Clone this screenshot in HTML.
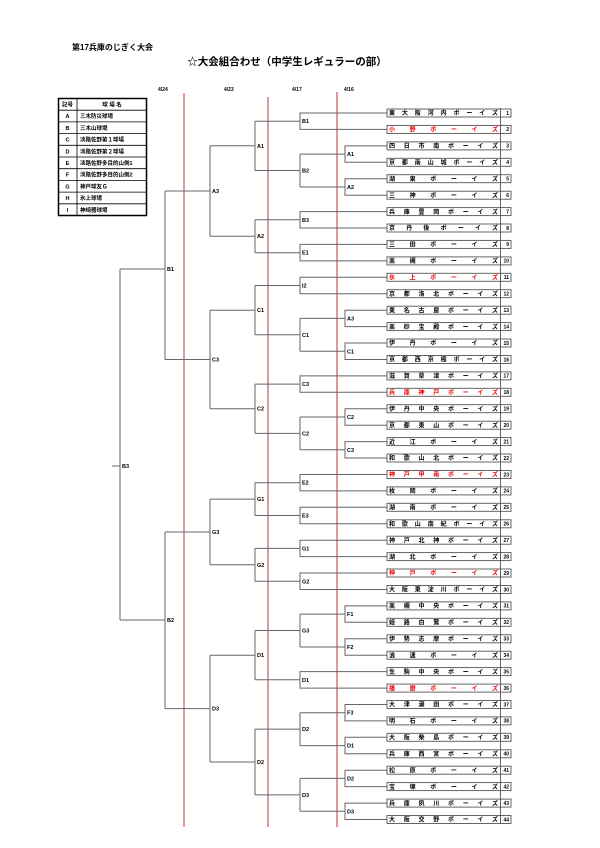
<!DOCTYPE html>
<html><head><meta charset="utf-8"><style>
html,body{margin:0;padding:0;background:#fff;}
svg{display:block;font-family:"Liberation Sans","Noto Sans CJK JP",sans-serif;font-weight:bold;}
</style></head><body>
<svg width="600" height="848" viewBox="0 0 600 848" xmlns="http://www.w3.org/2000/svg">
<text x="72" y="50" font-size="8">第17兵庫のじぎく大会</text>
<text x="287" y="65" font-size="10.5" text-anchor="middle">☆大会組合わせ（中学生レギュラーの部）</text>
<g font-size="5" fill="#000">
<text x="158" y="91">4/24</text><text x="224" y="91">4/23</text><text x="292" y="91">4/17</text><text x="344" y="91">4/16</text>
</g>
<g stroke="#b33" stroke-width="1">
<line x1="184" y1="93" x2="184" y2="827"/><line x1="268" y1="97" x2="268" y2="827"/><line x1="337" y1="92" x2="337" y2="827"/>
</g>
<!-- legend -->
<g stroke="#000" fill="none">
<rect x="58.5" y="98.5" width="88" height="117" stroke-width="1.5"/>
<line x1="77" y1="98" x2="77" y2="216" stroke-width="0.8"/>
<path stroke-width="0.8" d="M58 110.2H147M58 121.9H147M58 133.6H147M58 145.3H147M58 157H147M58 168.7H147M58 180.4H147M58 192.1H147M58 203.8H147"/>
</g>
<g font-size="5.5">
<text x="62" y="106.5">記号</text><text x="112" y="106.5" text-anchor="middle">球 場 名</text>
<text x="67.5" y="118.2" text-anchor="middle">A</text><text x="80" y="118.2">三木防災球場</text>
<text x="67.5" y="129.9" text-anchor="middle">B</text><text x="80" y="129.9">三木山球場</text>
<text x="67.5" y="141.6" text-anchor="middle">C</text><text x="80" y="141.6">淡路佐野第１球場</text>
<text x="67.5" y="153.3" text-anchor="middle">D</text><text x="80" y="153.3">淡路佐野第２球場</text>
<text x="67.5" y="165" text-anchor="middle">E</text><text x="80" y="165">淡路佐野多目的山側1</text>
<text x="67.5" y="176.7" text-anchor="middle">F</text><text x="80" y="176.7">淡路佐野多目的山側2</text>
<text x="67.5" y="188.4" text-anchor="middle">G</text><text x="80" y="188.4">神戸球友Ｇ</text>
<text x="67.5" y="200.1" text-anchor="middle">H</text><text x="80" y="200.1">氷上球場</text>
<text x="67.5" y="211.8" text-anchor="middle">I</text><text x="80" y="211.8">神崎器球場</text>
</g>
<!-- bracket lines -->
<path fill="none" stroke="#666" stroke-width="1" d="
M387 145.9H345V162.3H387M345 154.1H300
M387 178.7H345V195.2H387M345 187H300
M387 310.2H345V326.6H387M345 318.4H300
M387 343H345V359.5H387M345 351.3H300
M387 408.7H345V425.2H387M345 417H300
M387 441.6H345V458H387M345 449.8H300
M387 605.9H345V622.3H387M345 614.1H300
M387 638.8H345V655.2H387M345 647H300
M387 704.5H345V720.9H387M345 712.7H300
M387 737.3H345V753.8H387M345 745.6H300
M387 770.2H345V786.6H387M345 778.4H300
M387 803.1H345V819.5H387M345 811.3H300
M387 113H300V129.4H387M300 121.2H255
M387 211.6H300V228H387M300 219.8H255
M387 244.4H300V260.9H387M300 252.7H255
M387 277.3H300V293.7H387M300 285.5H255
M387 375.9H300V392.3H387M300 384.1H255
M387 474.5H300V490.9H387M300 482.7H255
M387 507.3H300V523.8H387M300 515.5H255
M387 540.2H300V556.6H387M300 548.4H255
M387 573H300V589.5H387M300 581.3H255
M387 671.6H300V688.1H387M300 679.8H255
M300 154.1V187M300 170.5H255
M300 318.4V351.3M300 334.8H255
M300 417V449.8M300 433.4H255
M300 614.1V647M300 630.5H255
M300 712.7V745.6M300 729.1H255
M300 778.4V811.3M300 794.9H255
M255 121.2V170.5M255 145.8H210
M255 219.8V252.7M255 236.2H210
M255 285.5V334.8M255 310.2H210
M255 384.1V433.4M255 408.7H210
M255 482.7V515.5M255 499.1H210
M255 548.4V581.3M255 564.8H210
M255 630.5V679.8M255 655.2H210
M255 729.1V794.9M255 762H210
M210 145.8V236.2M210 191H165
M210 310.2V408.7M210 359.5H165
M210 499.1V564.8M210 532H165
M210 655.2V762M210 708.6H165
M165 191V359.5M165 269H120
M165 532V708.6M165 620H120
M120 269V620M112 466H120"/>
<g font-size="5.5">
<text x="347" y="156">A1</text><text x="347" y="189">A2</text><text x="347" y="320.4">A3</text><text x="347" y="353.3">C1</text>
<text x="347" y="419">C2</text><text x="347" y="451.8">C3</text><text x="347" y="616.1">F1</text><text x="347" y="649">F2</text>
<text x="347" y="714.7">F3</text><text x="347" y="747.6">D1</text><text x="347" y="780.4">D2</text><text x="347" y="813.3">D3</text>
<text x="302" y="123.2">B1</text><text x="302" y="172.5">B2</text><text x="302" y="221.8">B3</text><text x="302" y="254.7">E1</text>
<text x="302" y="287.5">I2</text><text x="302" y="336.8">C1</text><text x="302" y="386.1">C3</text><text x="302" y="435.4">C2</text>
<text x="302" y="484.7">E2</text><text x="302" y="517.5">E3</text><text x="302" y="550.4">G1</text><text x="302" y="583.3">G2</text>
<text x="302" y="632.5">G3</text><text x="302" y="681.8">D1</text><text x="302" y="731.1">D2</text><text x="302" y="796.9">D3</text>
<text x="257" y="147.8">A1</text><text x="257" y="238.2">A2</text><text x="257" y="312.2">C1</text><text x="257" y="410.7">C2</text>
<text x="257" y="501.1">G1</text><text x="257" y="566.8">G2</text><text x="257" y="657.2">D1</text><text x="257" y="764">D2</text>
<text x="212" y="193">A3</text><text x="212" y="361.5">C3</text><text x="212" y="534">G3</text><text x="212" y="710.6">D3</text>
<text x="167" y="271">B1</text><text x="167" y="622">B2</text><text x="122" y="468">B3</text>
</g>
<!-- team boxes -->
<g fill="none" stroke="#555" stroke-width="0.9">
<rect x="387" y="109" width="124" height="8"/><rect x="387" y="125.4" width="124" height="8"/><rect x="387" y="141.9" width="124" height="8"/><rect x="387" y="158.3" width="124" height="8"/>
<rect x="387" y="174.7" width="124" height="8"/><rect x="387" y="191.2" width="124" height="8"/><rect x="387" y="207.6" width="124" height="8"/><rect x="387" y="224" width="124" height="8"/>
<rect x="387" y="240.4" width="124" height="8"/><rect x="387" y="256.9" width="124" height="8"/><rect x="387" y="273.3" width="124" height="8"/><rect x="387" y="289.7" width="124" height="8"/>
<rect x="387" y="306.2" width="124" height="8"/><rect x="387" y="322.6" width="124" height="8"/><rect x="387" y="339" width="124" height="8"/><rect x="387" y="355.5" width="124" height="8"/>
<rect x="387" y="371.9" width="124" height="8"/><rect x="387" y="388.3" width="124" height="8"/><rect x="387" y="404.7" width="124" height="8"/><rect x="387" y="421.2" width="124" height="8"/>
<rect x="387" y="437.6" width="124" height="8"/><rect x="387" y="454" width="124" height="8"/><rect x="387" y="470.5" width="124" height="8"/><rect x="387" y="486.9" width="124" height="8"/>
<rect x="387" y="503.3" width="124" height="8"/><rect x="387" y="519.8" width="124" height="8"/><rect x="387" y="536.2" width="124" height="8"/><rect x="387" y="552.6" width="124" height="8"/>
<rect x="387" y="569" width="124" height="8"/><rect x="387" y="585.5" width="124" height="8"/><rect x="387" y="601.9" width="124" height="8"/><rect x="387" y="618.3" width="124" height="8"/>
<rect x="387" y="634.8" width="124" height="8"/><rect x="387" y="651.2" width="124" height="8"/><rect x="387" y="667.6" width="124" height="8"/><rect x="387" y="684.1" width="124" height="8"/>
<rect x="387" y="700.5" width="124" height="8"/><rect x="387" y="716.9" width="124" height="8"/><rect x="387" y="733.3" width="124" height="8"/><rect x="387" y="749.8" width="124" height="8"/>
<rect x="387" y="766.2" width="124" height="8"/><rect x="387" y="782.6" width="124" height="8"/><rect x="387" y="799.1" width="124" height="8"/><rect x="387" y="815.5" width="124" height="8"/>
<line x1="500.5" y1="108" x2="500.5" y2="824"/>
</g>
<g stroke="#fff" stroke-width="8.3"><path d="M500.5 121.2V121.2"/></g>
<g font-size="6" lengthAdjust="spacing">
<text x="389" y="115.2" textLength="109" lengthAdjust="spacing">東大阪河内ボーイズ</text>
<text x="389" y="131.6" textLength="109" lengthAdjust="spacing" fill="#e00">小野ボーイズ</text>
<text x="389" y="148.1" textLength="109" lengthAdjust="spacing">四日市南ボーイズ</text>
<text x="389" y="164.5" textLength="109" lengthAdjust="spacing">京都南山城ボーイズ</text>
<text x="389" y="180.9" textLength="109" lengthAdjust="spacing">湖東ボーイズ</text>
<text x="389" y="197.4" textLength="109" lengthAdjust="spacing">三神ボーイズ</text>
<text x="389" y="213.8" textLength="109" lengthAdjust="spacing">兵庫豊岡ボーイズ</text>
<text x="389" y="230.2" textLength="109" lengthAdjust="spacing">京丹後ボーイズ</text>
<text x="389" y="246.6" textLength="109" lengthAdjust="spacing">三田ボーイズ</text>
<text x="389" y="263.1" textLength="109" lengthAdjust="spacing">高槻ボーイズ</text>
<text x="389" y="279.5" textLength="109" lengthAdjust="spacing" fill="#e00">氷上ボーイズ</text>
<text x="389" y="295.9" textLength="109" lengthAdjust="spacing">京都洛北ボーイズ</text>
<text x="389" y="312.4" textLength="109" lengthAdjust="spacing">東名古屋ボーイズ</text>
<text x="389" y="328.8" textLength="109" lengthAdjust="spacing">高砂宝殿ボーイズ</text>
<text x="389" y="345.2" textLength="109" lengthAdjust="spacing">伊丹ボーイズ</text>
<text x="389" y="361.7" textLength="109" lengthAdjust="spacing">京都西京極ボーイズ</text>
<text x="389" y="378.1" textLength="109" lengthAdjust="spacing">滋賀草津ボーイズ</text>
<text x="389" y="394.5" textLength="109" lengthAdjust="spacing" fill="#e00">兵庫神戸ボーイズ</text>
<text x="389" y="410.9" textLength="109" lengthAdjust="spacing">伊丹中央ボーイズ</text>
<text x="389" y="427.4" textLength="109" lengthAdjust="spacing">京都東山ボーイズ</text>
<text x="389" y="443.8" textLength="109" lengthAdjust="spacing">近江ボーイズ</text>
<text x="389" y="460.2" textLength="109" lengthAdjust="spacing">和歌山北ボーイズ</text>
<text x="389" y="476.7" textLength="109" lengthAdjust="spacing" fill="#e00">神戸甲南ボーイズ</text>
<text x="389" y="493.1" textLength="109" lengthAdjust="spacing">枚岡ボーイズ</text>
<text x="389" y="509.5" textLength="109" lengthAdjust="spacing">湖南ボーイズ</text>
<text x="389" y="526" textLength="109" lengthAdjust="spacing">和歌山南紀ボーイズ</text>
<text x="389" y="542.4" textLength="109" lengthAdjust="spacing">神戸北神ボーイズ</text>
<text x="389" y="558.8" textLength="109" lengthAdjust="spacing">湖北ボーイズ</text>
<text x="389" y="575.2" textLength="109" lengthAdjust="spacing" fill="#e00">神戸ボーイズ</text>
<text x="389" y="591.7" textLength="109" lengthAdjust="spacing">大阪東淀川ボーイズ</text>
<text x="389" y="608.1" textLength="109" lengthAdjust="spacing">高槻中央ボーイズ</text>
<text x="389" y="624.5" textLength="109" lengthAdjust="spacing">姫路白鷺ボーイズ</text>
<text x="389" y="641" textLength="109" lengthAdjust="spacing">伊勢志摩ボーイズ</text>
<text x="389" y="657.4" textLength="109" lengthAdjust="spacing">浪速ボーイズ</text>
<text x="389" y="673.8" textLength="109" lengthAdjust="spacing">生駒中央ボーイズ</text>
<text x="389" y="690.3" textLength="109" lengthAdjust="spacing" fill="#e00">播磨ボーイズ</text>
<text x="389" y="706.7" textLength="109" lengthAdjust="spacing">大津瀬田ボーイズ</text>
<text x="389" y="723.1" textLength="109" lengthAdjust="spacing">明石ボーイズ</text>
<text x="389" y="739.5" textLength="109" lengthAdjust="spacing">大阪柴島ボーイズ</text>
<text x="389" y="756" textLength="109" lengthAdjust="spacing">兵庫西宮ボーイズ</text>
<text x="389" y="772.4" textLength="109" lengthAdjust="spacing">松原ボーイズ</text>
<text x="389" y="788.8" textLength="109" lengthAdjust="spacing">宝塚ボーイズ</text>
<text x="389" y="805.3" textLength="109" lengthAdjust="spacing">兵庫夙川ボーイズ</text>
<text x="389" y="821.7" textLength="109" lengthAdjust="spacing">大阪交野ボーイズ</text>
</g>
<g font-size="5" text-anchor="end">
<text x="509" y="114.8">1</text><text x="509" y="131.2">2</text><text x="509" y="147.7">3</text><text x="509" y="164.1">4</text>
<text x="509" y="180.5">5</text><text x="509" y="197">6</text><text x="509" y="213.4">7</text><text x="509" y="229.8">8</text>
<text x="509" y="246.2">9</text><text x="509" y="262.7">10</text><text x="509" y="279.1">11</text><text x="509" y="295.5">12</text>
<text x="509" y="312">13</text><text x="509" y="328.4">14</text><text x="509" y="344.8">15</text><text x="509" y="361.3">16</text>
<text x="509" y="377.7">17</text><text x="509" y="394.1">18</text><text x="509" y="410.5">19</text><text x="509" y="427">20</text>
<text x="509" y="443.4">21</text><text x="509" y="459.8">22</text><text x="509" y="476.3">23</text><text x="509" y="492.7">24</text>
<text x="509" y="509.1">25</text><text x="509" y="525.6">26</text><text x="509" y="542">27</text><text x="509" y="558.4">28</text>
<text x="509" y="574.8">29</text><text x="509" y="591.3">30</text><text x="509" y="607.7">31</text><text x="509" y="624.1">32</text>
<text x="509" y="640.6">33</text><text x="509" y="657">34</text><text x="509" y="673.4">35</text><text x="509" y="689.9">36</text>
<text x="509" y="706.3">37</text><text x="509" y="722.7">38</text><text x="509" y="739.1">39</text><text x="509" y="755.6">40</text>
<text x="509" y="772">41</text><text x="509" y="788.4">42</text><text x="509" y="804.9">43</text><text x="509" y="821.3">44</text>
</g>
</svg>
</body></html>
